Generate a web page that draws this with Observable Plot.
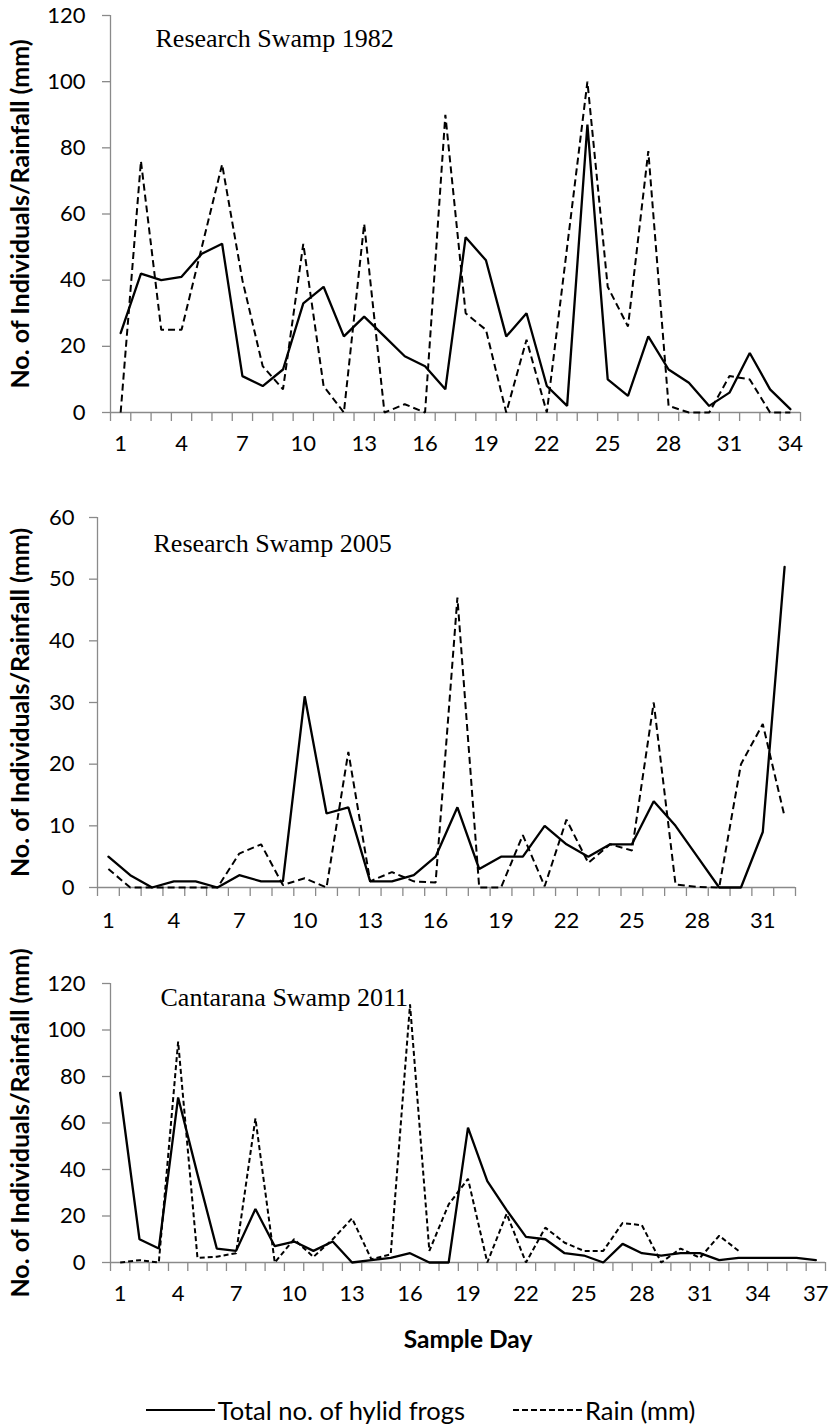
<!DOCTYPE html>
<html>
<head>
<meta charset="utf-8">
<script src="https://cdn.jsdelivr.net/npm/d3@7"></script>
<script src="https://cdn.jsdelivr.net/npm/@observablehq/plot@0.6"></script>
<style>
  html, body { margin: 0; padding: 0; background: #ffffff; }
  #chart { position: relative; width: 832px; height: 1426px; background: #fff; }
  .panel { position: absolute; left: 0; }
  .panel svg { display: block; overflow: visible; }
  #legend { position: absolute; left: 0; top: 1395px; width: 832px; height: 30px; box-sizing: border-box; padding-left: 9px;
    display: flex; justify-content: center; align-items: center;
    font-family: Lato, "Open Sans", sans-serif; font-size: 25.5px; color: #000; }
  #legend .item { display: flex; align-items: center; white-space: nowrap; }
  #legend .item + .item { margin-left: 48px; }
  #legend svg { display: block; margin-right: 3px; }
</style>
</head>
<body>
<div id="chart">
  <div class="panel" id="p1" style="top:0px"></div>
  <div class="panel" id="p2" style="top:470px"></div>
  <div class="panel" id="p3" style="top:945px"></div>
  <div id="legend"></div>
</div>
<script>
// ---------------- DATA ----------------
const yAxisTitle = "No. of Individuals/Rainfall (mm)";
const xAxisTitle = "Sample Day";
const seriesNames = ["Total no. of hylid frogs", "Rain (mm)"];

// Research Swamp 1982
const title1982 = "Research Swamp 1982";
const frogs1982 = [24, 42, 40, 41, 48, 51, 11, 8, 13, 33, 38, 23, 29, 23, 17, 14, 7, 53, 46, 23,
                   30, 8, 2, 87, 10, 5, 23, 13, 9, 2, 6, 18, 7, 1];
const rain1982  = [0, 76, 25, 25, 50, 75, 40, 14, 7, 51, 8, 0, 57, 0, 2.5, 0, 90, 30, 25, 0,
                   22, 0, 50, 100, 38, 26, 79, 2, 0, 0, 11, 10, 0, 0];
const xLabels1982 = [1, 4, 7, 10, 13, 16, 19, 22, 25, 28, 31, 34];
const yTicks1982 = [0, 20, 40, 60, 80, 100, 120];

// Research Swamp 2005
const title2005 = "Research Swamp 2005";
const frogs2005 = [5, 2, 0, 1, 1, 0, 2, 1, 1, 31, 12, 13, 1, 1, 2, 5, 13, 3, 5, 5,
                   10, 7, 5, 7, 7, 14, 10, 5, 0, 0, 9, 52];
const rain2005  = [3, 0, 0, 0, 0, 0, 5.5, 7, 0.4, 1.5, 0, 22, 1, 2.5, 1, 0.8, 47, 0, 0, 8.5,
                   0.2, 11, 4, 7, 6, 30, 0.5, 0.1, 0, 20, 26.5, 11.5];
const xLabels2005 = [1, 4, 7, 10, 13, 16, 19, 22, 25, 28, 31];
const yTicks2005 = [0, 10, 20, 30, 40, 50, 60];

// Cantarana Swamp 2011
const title2011 = "Cantarana Swamp 2011";
const frogs2011 = [73, 10, 6, 71, 38, 6, 5, 23, 7, 9, 5, 9, 0, 1, 2, 4, 0, 0, 58, 35,
                   22.5, 11, 10, 4, 3, 0, 8, 4, 3, 4, 4, 1, 2, 2, 2, 2, 1];
const rain2011  = [0, 1, 0, 95, 2, 2.5, 4, 62, 0, 10, 2.4, 10, 19, 1.4, 3.5, 111, 5, 25, 36, 0,
                   21, 0, 15, 8.5, 5, 5, 17, 16, 0, 6, 2, 11.5, 5];
const xLabels2011 = [1, 4, 7, 10, 13, 16, 19, 22, 25, 28, 31, 34, 37];
const yTicks2011 = [0, 20, 40, 60, 80, 100, 120];

// ---------------- DRAWING ----------------
const axisGrey = "#8a8a8a";
const sans = "Lato, 'Open Sans', sans-serif";
const serif = "'Liberation Serif', 'DejaVu Serif', serif";

function panel(cfg) {
  const n = cfg.frogs.length;
  const frogRows = cfg.frogs.map((v, i) => ({day: i + 1, value: v}));
  const rainRows = cfg.rain.map((v, i) => ({day: i + 1, value: v}));
  const bounds = d3.range(n + 1).map(i => i + 0.5);
  const marks = [
    Plot.ruleY([0], {stroke: axisGrey, strokeWidth: 1.3}),
    Plot.ruleX([0.5], {stroke: axisGrey, strokeWidth: 1.3}),
    Plot.axisX(bounds, {tickSize: 9, tickFormat: () => "", stroke: axisGrey, strokeWidth: 1.3, label: null}),
    Plot.axisX(cfg.xLabels, {tickSize: 0, tickPadding: cfg.xPad, label: null, fontSize: 22, fill: "black"}),
    Plot.axisY(cfg.yTicks, {tickSize: 8, tickPadding: cfg.yPad, stroke: axisGrey, strokeWidth: 1.3, label: null, fontSize: 22, fill: "black"}),
    Plot.line(rainRows, {x: "day", y: "value", stroke: "black", strokeWidth: 2, strokeDasharray: cfg.dash, strokeLinejoin: "miter", strokeLinecap: "butt"}),
    Plot.line(frogRows, {x: "day", y: "value", stroke: "black", strokeWidth: 2.3, strokeLinejoin: "miter"}),
    Plot.text([cfg.title], {frameAnchor: "top-left", dx: cfg.titleDx, dy: cfg.titleDy, lineAnchor: "top",
      textAnchor: "start", fontFamily: serif, fontSize: 26, fill: "black"}),
    Plot.text([yAxisTitle], {frameAnchor: "left", dx: 20 - cfg.ml, rotate: -90, textAnchor: "middle",
      lineAnchor: "middle", fontWeight: "bold", fontSize: 25, fill: "black"})
  ];
  if (cfg.xTitle) {
    marks.push(Plot.text([xAxisTitle], {frameAnchor: "bottom", dy: cfg.xTitleDy, lineAnchor: "middle",
      textAnchor: "middle", fontWeight: "bold", fontSize: 24.5, fill: "black"}));
  }
  return Plot.plot({
    width: 832,
    height: cfg.height,
    marginTop: cfg.mt,
    marginBottom: cfg.mb,
    marginLeft: cfg.ml,
    marginRight: cfg.mr,
    style: {fontFamily: sans, fontSize: "22px", color: "black", background: "white", overflow: "visible"},
    x: {type: "linear", domain: [0.5, n + 0.5]},
    y: {domain: [0, cfg.yMax]},
    marks
  });
}

document.getElementById("p1").append(panel({
  frogs: frogs1982, rain: rain1982, xLabels: xLabels1982, yTicks: yTicks1982, yMax: 120,
  title: title1982, height: 470, mt: 15, mb: 58, ml: 110, mr: 32, xPad: 23, yPad: 17,
  titleDx: 45, titleDy: 13, dash: "7,4"
}));
document.getElementById("p2").append(panel({
  frogs: frogs2005, rain: rain2005, xLabels: xLabels2005, yTicks: yTicks2005, yMax: 60,
  title: title2005, height: 475, mt: 47, mb: 58, ml: 97, mr: 37, xPad: 25, yPad: 15,
  titleDx: 56, titleDy: 16, dash: "7,4"
}));
document.getElementById("p3").append(panel({
  frogs: frogs2011, rain: rain2011, xLabels: xLabels2011, yTicks: yTicks2011, yMax: 120,
  title: title2011, height: 420, mt: 38, mb: 103, ml: 110, mr: 7, xPad: 23, yPad: 17,
  titleDx: 50, titleDy: 4, dash: "5,3", xTitle: true, xTitleDy: 78
}));

// legend
const legend = document.getElementById("legend");
seriesNames.forEach((name, i) => {
  const item = document.createElement("div");
  item.className = "item";
  const sw = d3.create("svg").attr("width", 69).attr("height", 10);
  sw.append("line").attr("x1", 0).attr("x2", 69).attr("y1", 5).attr("y2", 5)
    .attr("stroke", "black").attr("stroke-width", 2)
    .attr("stroke-dasharray", i === 1 ? "6,3" : null);
  item.append(sw.node());
  const t = document.createElement("span");
  t.textContent = name;
  item.append(t);
  legend.append(item);
});
</script>
</body>
</html>
